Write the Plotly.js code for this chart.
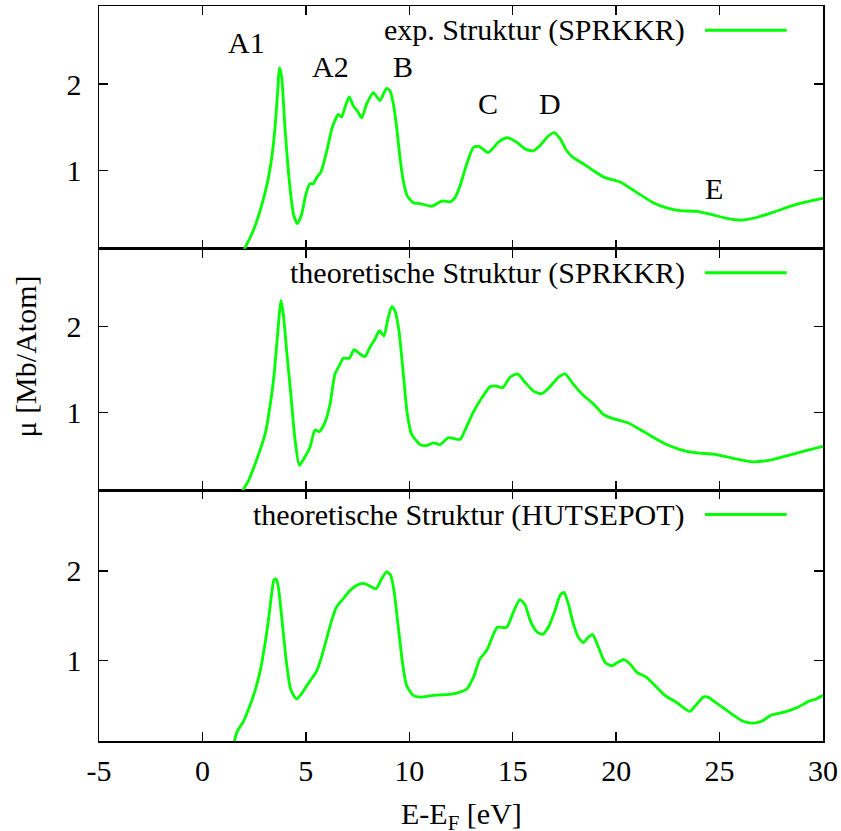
<!DOCTYPE html>
<html><head><meta charset="utf-8">
<script src="https://cdn.plot.ly/plotly-3.0.1.min.js"></script>
<style>html,body{margin:0;padding:0;background:#fff}#chart{width:841px;height:831px}</style>
</head><body><div id="chart"></div>
<script>
// ---- data (energy E-E_F in eV, absorption mu in Mb/Atom) ----
const expE = [2.0,2.46,2.79,3.03,3.19,3.35,3.51,3.64,3.72,3.83,3.99,4.2,4.4,4.59,4.8,5.0,5.2,5.36,5.52,5.72,5.93,6.09,6.25,6.41,6.57,6.73,6.89,7.1,7.29,7.49,7.7,7.94,8.26,8.58,8.9,9.07,9.23,9.39,9.55,9.71,9.9,10.19,10.52,11.09,11.57,11.97,12.21,12.46,12.78,13.1,13.37,13.82,14.31,14.74,15.19,15.6,16.0,16.32,16.72,17.0,17.29,17.61,17.93,18.41,18.9,19.46,20.19,20.99,21.8,22.44,23.08,23.89,24.53,25.34,26.06,26.79,27.59,28.56,29.2,30.0];
const expMu = [0.08,0.31,0.54,0.75,0.92,1.15,1.5,1.92,2.19,2.08,1.5,0.88,0.5,0.39,0.5,0.73,0.85,0.85,0.92,0.98,1.15,1.31,1.48,1.58,1.65,1.62,1.73,1.85,1.75,1.69,1.61,1.77,1.9,1.81,1.95,1.92,1.77,1.5,1.15,0.88,0.71,0.63,0.62,0.59,0.65,0.64,0.69,0.83,1.08,1.27,1.28,1.21,1.33,1.38,1.33,1.25,1.23,1.29,1.4,1.44,1.37,1.23,1.15,1.08,1.0,0.92,0.87,0.75,0.63,0.57,0.54,0.53,0.5,0.45,0.43,0.46,0.52,0.6,0.64,0.68];

const sprE = [1.9,2.22,2.46,2.75,3.03,3.27,3.46,3.62,3.8,3.91,4.07,4.27,4.48,4.69,4.96,5.2,5.44,5.65,5.93,6.17,6.41,6.65,6.81,7.1,7.33,7.62,7.86,8.1,8.34,8.55,8.78,8.95,9.15,9.31,9.5,9.71,9.9,10.11,10.52,10.85,11.17,11.49,11.89,12.46,12.7,13.1,13.5,13.9,14.15,14.52,14.87,15.23,15.6,16.0,16.4,16.8,17.21,17.53,17.93,18.33,18.9,19.38,19.86,20.59,21.47,22.44,23.4,24.05,24.69,25.66,26.63,27.43,28.24,29.04,30.0];
const sprMu = [0.08,0.21,0.35,0.54,0.75,1.08,1.43,1.87,2.3,2.14,1.72,1.22,0.68,0.39,0.49,0.6,0.8,0.78,0.89,1.1,1.45,1.56,1.63,1.63,1.73,1.68,1.65,1.76,1.85,1.95,1.89,2.07,2.23,2.18,1.95,1.45,0.99,0.75,0.63,0.62,0.65,0.63,0.71,0.69,0.8,1.01,1.17,1.3,1.31,1.29,1.41,1.45,1.35,1.25,1.22,1.3,1.41,1.45,1.33,1.22,1.1,0.98,0.93,0.88,0.76,0.63,0.55,0.53,0.52,0.47,0.43,0.45,0.5,0.55,0.61];

const hutE = [1.5,1.69,1.98,2.27,2.54,2.79,3.0,3.19,3.35,3.46,3.56,3.67,3.83,4.03,4.24,4.4,4.56,4.8,5.05,5.29,5.52,5.76,6.0,6.25,6.49,6.81,7.13,7.46,7.78,8.1,8.39,8.66,8.9,9.1,9.26,9.47,9.68,9.87,10.19,10.52,11.17,11.97,12.38,12.78,13.1,13.42,13.74,14.03,14.26,14.71,15.03,15.35,15.6,15.84,16.16,16.45,16.72,17.05,17.29,17.48,17.69,17.93,18.17,18.41,18.66,18.86,19.14,19.46,19.78,20.02,20.38,20.67,20.99,21.47,21.96,22.36,22.92,23.33,23.57,23.89,24.21,24.45,24.69,25.18,25.66,26.14,26.63,27.03,27.51,28.08,28.72,29.28,29.68,30.0];
const hutMu = [0.06,0.21,0.32,0.48,0.66,0.88,1.15,1.45,1.75,1.9,1.91,1.82,1.49,1.04,0.7,0.61,0.57,0.63,0.72,0.8,0.88,1.04,1.24,1.45,1.6,1.69,1.78,1.84,1.86,1.83,1.8,1.91,1.99,1.95,1.78,1.37,0.96,0.72,0.61,0.59,0.61,0.62,0.64,0.68,0.81,1.02,1.11,1.27,1.37,1.37,1.54,1.68,1.62,1.45,1.32,1.29,1.37,1.56,1.73,1.76,1.63,1.41,1.26,1.2,1.26,1.29,1.15,0.98,0.94,0.97,1.01,0.96,0.87,0.81,0.7,0.61,0.53,0.46,0.43,0.51,0.59,0.59,0.55,0.47,0.39,0.32,0.3,0.32,0.39,0.42,0.47,0.54,0.57,0.61];

const seriesNames = ['exp. Struktur (SPRKKR)', 'theoretische Struktur (SPRKKR)', 'theoretische Struktur (HUTSEPOT)'];
const xTickVals = [-5,0,5,10,15,20,25,30];
const yTickVals = [1,2];
const peakNames = ['A1','A2','B','C','D','E'];
const peakE = [2.15,6.17,9.71,13.79,16.8,24.74];
const peakMu = [2.48,2.2,2.2,1.77,1.77,0.79];

// ---- styling ----
const FONT = "'Liberation Serif', 'Times New Roman', Times, serif";
const GREEN = '#00ff00';
const FS = 30;

const lineStyle = {color: GREEN, width: 2.8, shape: 'spline', smoothing: 0.6};
const traces = [
  {x: expE, y: expMu, xaxis: 'x3', yaxis: 'y3', type: 'scatter', mode: 'lines', line: lineStyle, name: seriesNames[0]},
  {x: sprE, y: sprMu, xaxis: 'x2', yaxis: 'y2', type: 'scatter', mode: 'lines', line: lineStyle, name: seriesNames[1]},
  {x: hutE, y: hutMu, xaxis: 'x', yaxis: 'y', type: 'scatter', mode: 'lines', line: lineStyle, name: seriesNames[2]}
];

function xAx(anchor, labels) {
  return {anchor: anchor, range: [-5, 30], tickvals: xTickVals, ticktext: xTickVals.map(String),
    ticks: 'inside', ticklen: 9, tickwidth: 1.5, tickcolor: '#000', showline: true, linecolor: '#000',
    linewidth: 1.5, mirror: 'allticks', showgrid: false, zeroline: false, showticklabels: labels,
    ticklabelstandoff: 2, tickfont: {family: FONT, size: FS, color: '#000'}};
}
function yAx(anchor, domain) {
  return {anchor: anchor, domain: domain, range: [0.1, 2.9], tickvals: yTickVals,
    ticks: 'inside', ticklen: 9, tickwidth: 1.5, tickcolor: '#000', showline: true, linecolor: '#000',
    linewidth: 1.5, mirror: 'allticks', showgrid: false, zeroline: false,
    ticklabelstandoff: 10, tickfont: {family: FONT, size: FS, color: '#000'}};
}

const legendY = [0.9669, 0.637, 0.308];
const annotations = [];
const shapes = [];
seriesNames.forEach((n, i) => {
  annotations.push({xref: 'paper', yref: 'paper', x: 0.8118, y: legendY[i], xanchor: 'right', yanchor: 'middle',
    text: n, showarrow: false, font: {family: FONT, size: FS, color: '#000'}});
  shapes.push({type: 'line', xref: 'paper', yref: 'paper', x0: 0.8371, x1: 0.9499, y0: legendY[i], y1: legendY[i],
    line: {color: GREEN, width: 3}});
});
peakNames.forEach((n, i) => {
  annotations.push({xref: 'x3', yref: 'y3', x: peakE[i], y: peakMu[i], xanchor: 'center', yanchor: 'middle',
    text: n, showarrow: false, font: {family: FONT, size: FS, color: '#000'}});
});
annotations.push({xref: 'paper', yref: 'paper', x: -0.102, y: 0.5234, textangle: -90, xanchor: 'center', yanchor: 'middle',
  text: 'μ [Mb/Atom]', showarrow: false, font: {family: FONT, size: FS, color: '#000'}});
annotations.push({xref: 'paper', yref: 'paper', x: 0.5, y: -0.102, xanchor: 'center', yanchor: 'middle',
  text: 'E-E<sub>F</sub> [eV]', showarrow: false, font: {family: FONT, size: FS, color: '#000'}});

const layout = {
  width: 841, height: 831,
  margin: {l: 99, r: 18, t: 6, b: 90},
  paper_bgcolor: '#fff', plot_bgcolor: '#fff',
  showlegend: false,
  font: {family: FONT, size: FS, color: '#000'},
  xaxis: xAx('y', true),
  xaxis2: Object.assign(xAx('y2', false), {matches: 'x'}),
  xaxis3: Object.assign(xAx('y3', false), {matches: 'x'}),
  yaxis: yAx('x', [0, 0.3411]),
  yaxis2: yAx('x2', [0.3411, 0.6698]),
  yaxis3: yAx('x3', [0.6698, 1]),
  annotations: annotations,
  shapes: shapes
};

Plotly.newPlot('chart', traces, layout, {staticPlot: true, displayModeBar: false});
</script>
</body></html>
